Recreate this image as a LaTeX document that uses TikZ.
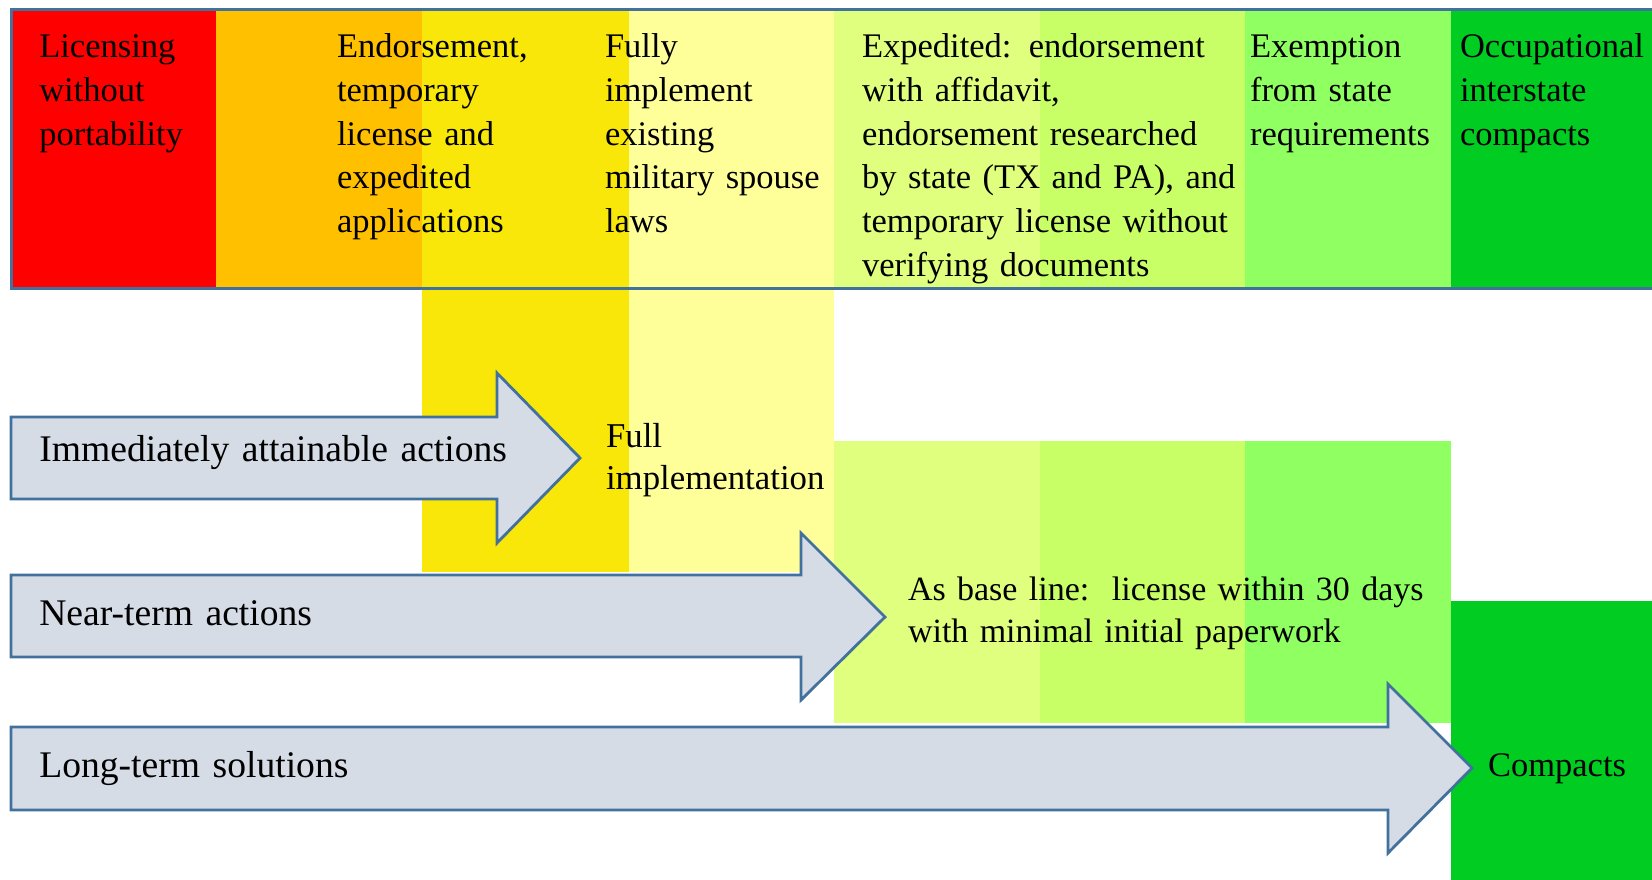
\documentclass[tikz,border=0pt]{standalone}
\usepackage{fontspec}
\setmainfont{Liberation Serif}
\setlength\parindent{0pt}
\definecolor{cRed}{HTML}{FF0000}
\definecolor{cOrange}{HTML}{FFC000}
\definecolor{cYellow}{HTML}{F9E70A}
\definecolor{cLtYellow}{HTML}{FFFF99}
\definecolor{cYelGreen}{HTML}{E0FF7F}
\definecolor{cLime}{HTML}{C8FF66}
\definecolor{cLtGreen}{HTML}{8FFF62}
\definecolor{cGreen}{HTML}{00CC22}
\definecolor{arrowfill}{HTML}{D5DCE6}
\definecolor{arrowline}{HTML}{41719C}
\begin{document}
\begin{tikzpicture}[x=0.5pt,y=-0.5pt,
  lbl/.style={inner sep=0pt, outer sep=0pt, anchor=base west, align=left, text width=300pt,
    font=\fontsize{17.25pt}{21.85pt}\selectfont},
  lbltwo/.style={lbl, font=\fontsize{17pt}{21pt}\selectfont},
  lblfull/.style={lbl, font=\fontsize{17.4pt}{21pt}\selectfont},
  albl/.style={lbl, font=\fontsize{18.8pt}{23pt}\selectfont},
  bigarrow/.style={fill=arrowfill, draw=arrowline, line width=1.4pt, line join=miter}]
\useasboundingbox (0,0) rectangle (1652,879);
\clip (0,0) rectangle (1652,879);
% top band columns
\fill[cRed]      (11,9) rectangle (216,288);
\fill[cOrange]   (216,9) rectangle (422,288);
\fill[cYellow]   (422,9) rectangle (629,572);
\fill[cLtYellow] (629,9) rectangle (834,572);
\fill[cYelGreen] (834,9) rectangle (1040,288);
\fill[cLime]     (1040,9) rectangle (1245,288);
\fill[cLtGreen]  (1245,9) rectangle (1451,288);
\fill[cGreen]    (1451,9) rectangle (1665,288);
\draw[arrowline, line width=1.5pt] (11,9) rectangle (1665,288);
% lower blocks
\fill[cYelGreen] (834,441) rectangle (1040,723);
\fill[cLime]     (1040,441) rectangle (1245,723);
\fill[cLtGreen]  (1245,441) rectangle (1451,723);
\fill[cGreen]    (1451,601) rectangle (1665,885);
% arrows
\draw[bigarrow] (11,417) -- (497,417) -- (497,373) -- (580,458) -- (497,543) -- (497,499) -- (11,499) -- cycle;
\draw[bigarrow] (11,575) -- (801,575) -- (801,533) -- (885,617) -- (801,700) -- (801,657) -- (11,657) -- cycle;
\draw[bigarrow] (11,727) -- (1388,727) -- (1388,684) -- (1472,768) -- (1388,853) -- (1388,810) -- (11,810) -- cycle;
% texts
\node[lbl] (t1) at (39.3,57.7) {Licensing\\without\\portability};
\node[lbl] (t2) at (337,57.7) {Endorsement,\\temporary\\license and\\expedited\\applications};
\node[lbl] (t3) at (605,57.7) {Fully\\implement\\existing\\military spouse\\laws};
\node[lbl] (t4) at (862,57.7) {Expedited: endorsement\\with affidavit,\\endorsement researched\\by state (TX and PA), and\\temporary license without\\verifying documents};
\node[lbl] (t5) at (1250,57.7) {Exemption\\from state\\requirements};
\node[lbl] (t6) at (1460,57.7) {Occupational\\interstate\\compacts};
\node[lblfull] (fi) at (606,447) {Full\\implementation};
\node[lbltwo] (bl) at (908,600) {As base line:\ \ license within 30 days\\with minimal initial paperwork};
\node[lbl] (cp) at (1488,776) {Compacts};
\node[albl] (a1) at (39.3,461.7) {Immediately attainable actions};
\node[albl] (a2) at (39.3,625) {Near-term actions};
\node[albl] (a3) at (39.3,777) {Long-term solutions};
\end{tikzpicture}
\end{document}
